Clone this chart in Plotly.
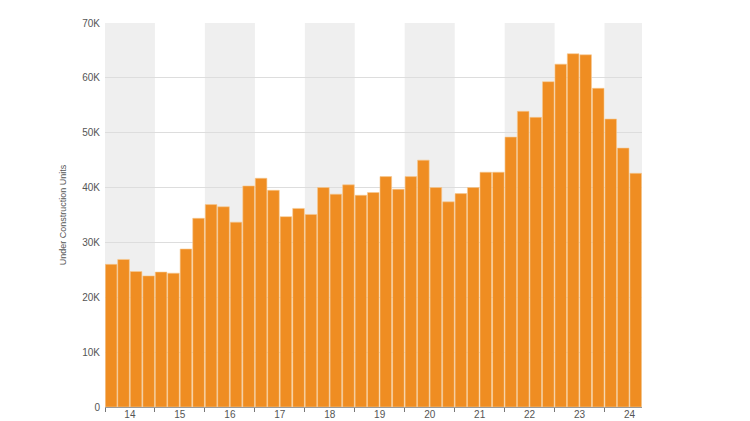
import plotly.graph_objects as go

# --- DATA (quarterly, 2014 Q1 .. 2024 Q3) ---
years = list(range(2014, 2025))
year_labels = [str(y)[2:] for y in years]
quarter_starts = [f"{y}-{m:02d}-01" for y in years for m in (1, 4, 7, 10)][:43]
units = [
    26000, 26900, 24700, 23900,   # 14
    24600, 24400, 28800, 34400,   # 15
    36900, 36500, 33700, 40300,   # 16
    41700, 39500, 34700, 36200,   # 17
    35100, 40000, 38800, 40500,   # 18
    38600, 39100, 42000, 39700,   # 19
    42000, 45000, 40000, 37400,   # 20
    38900, 40000, 42800, 42800,   # 21
    49200, 53900, 52800, 59300,   # 22
    62500, 64400, 64200, 58100,   # 23
    52500, 47200, 42600,          # 24
]
y_ticks = [0, 10000, 20000, 30000, 40000, 50000, 60000, 70000]
y_tick_text = ["0", "10K", "20K", "30K", "40K", "50K", "60K", "70K"]

BAR_COLOR = "#EF8D22"
BAND_COLOR = "#EFEFEF"
TEXT_COLOR = "#555555"
X_RANGE = ["2014-01-01", "2024-10-01"]

fig = go.Figure()

fig.add_trace(go.Bar(
    x=quarter_starts,
    y=units,
    xperiod="M3",
    xperiodalignment="middle",
    marker=dict(color=BAR_COLOR, line=dict(color="#F7C992", width=0.6)),
    showlegend=False,
))

# alternating year bands (shaded for even offsets from 2014)
shapes = []
for i, yr in enumerate(years):
    if i % 2 == 0:
        shapes.append(dict(
            type="rect", xref="x", yref="y", layer="below",
            x0=f"{yr}-01-01", x1=f"{yr + 1}-01-01", y0=0, y1=70000,
            fillcolor=BAND_COLOR, line=dict(width=0),
        ))

# page body has an 8px margin, so the figure is a bit smaller than the window
fig.update_layout(
    width=742, height=413,
    margin=dict(l=97, r=108, t=15, b=14),
    paper_bgcolor="white",
    plot_bgcolor="white",
    bargap=0.06,
    shapes=shapes,
    font=dict(family="Liberation Sans, Arial, sans-serif", size=10, color=TEXT_COLOR),
    # main axis: line + tick marks at year boundaries
    xaxis=dict(
        type="date",
        range=X_RANGE,
        tickvals=[f"{y}-01-01" for y in years],
        showticklabels=False,
        ticks="outside", ticklen=4, tickcolor="#777777",
        showline=True, linecolor="#999999", linewidth=1,
        showgrid=False,
        automargin=False,
    ),
    # label axis: year labels centred in each year
    xaxis2=dict(
        type="date",
        overlaying="x",
        side="bottom",
        range=X_RANGE,
        tickvals=[f"{y}-07-02" for y in years],
        ticktext=year_labels,
        ticks="",
        showline=False,
        showgrid=False,
        zeroline=False,
        automargin=False,
        tickfont=dict(size=10, color=TEXT_COLOR),
    ),
    yaxis=dict(
        range=[0, 70000],
        tickvals=y_ticks,
        ticktext=y_tick_text,
        showgrid=True, gridcolor="#DDDDDD", gridwidth=1,
        zeroline=False,
        ticks="",
        ticklabelstandoff=4,
        automargin=False,
        tickfont=dict(size=10, color=TEXT_COLOR),
        title=dict(text="Under Construction Units", standoff=14,
                   font=dict(size=9, color=TEXT_COLOR)),
    ),
)

# an empty trace so the label axis gets drawn
fig.add_trace(go.Scatter(x=[X_RANGE[0]], y=[None], xaxis="x2",
                         mode="markers", showlegend=False, hoverinfo="skip"))

fig.write_html("out.html")
